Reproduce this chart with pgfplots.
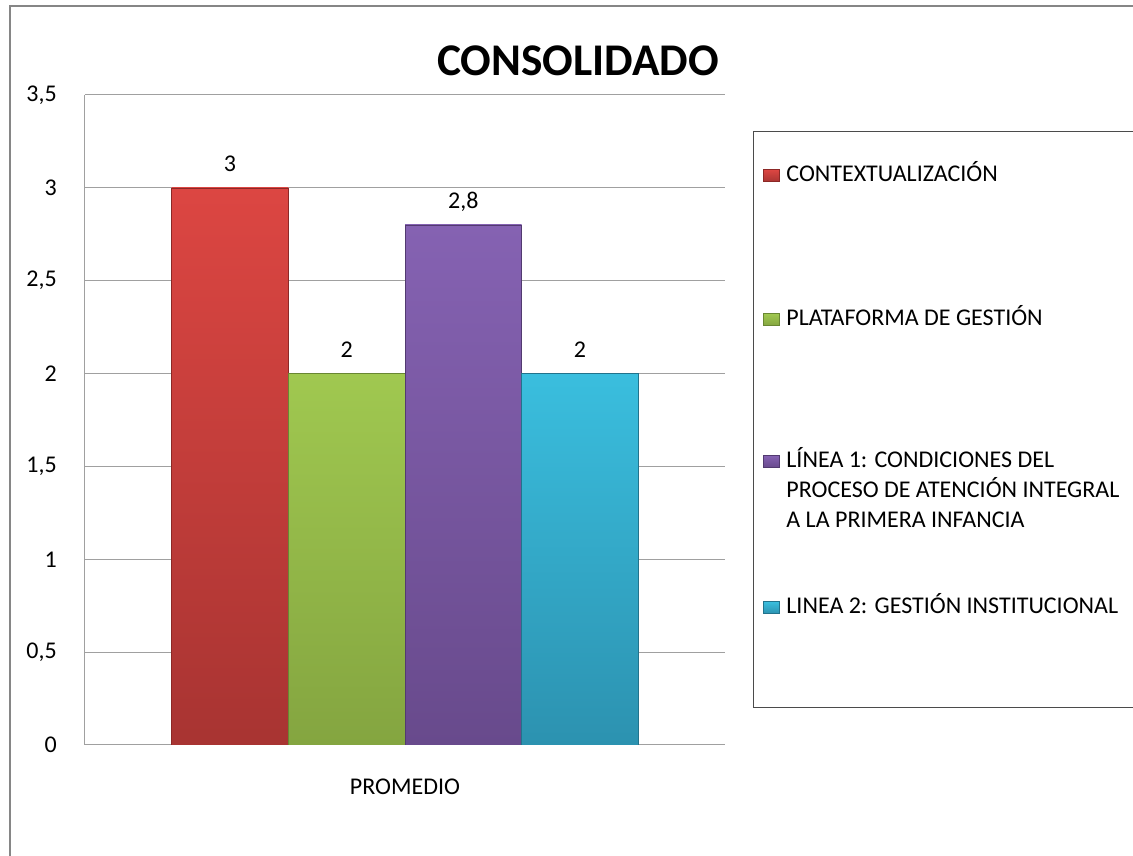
\documentclass[border=0pt]{standalone}
\usepackage{fontspec}
\setmainfont{Carlito}
\usepackage{pgfplots}
\pgfplotsset{compat=1.18}
\newdimen\PX \PX=0.75pt
\definecolor{gridc}{RGB}{160,160,160}
\definecolor{borderc}{RGB}{134,134,134}
\definecolor{legc}{RGB}{75,75,75}
\definecolor{redT}{RGB}{220,70,66}
\definecolor{redB}{RGB}{168,52,50}
\definecolor{redD}{RGB}{140,40,38}
\definecolor{grnT}{RGB}{160,200,80}
\definecolor{grnB}{RGB}{132,165,64}
\definecolor{grnD}{RGB}{105,135,50}
\definecolor{purT}{RGB}{133,98,178}
\definecolor{purB}{RGB}{104,74,140}
\definecolor{purD}{RGB}{82,58,112}
\definecolor{cyaT}{RGB}{58,190,222}
\definecolor{cyaB}{RGB}{44,146,176}
\definecolor{cyaD}{RGB}{34,115,140}
\pgfplotsset{mylegend/.style={legend image code/.code={\path[##1,/tikz/.cd,line width=0.5pt] (0pt,0pt) rectangle (12pt,9pt);}}}
\begin{document}
\begin{tikzpicture}
\useasboundingbox (0,0) rectangle (849.75pt,642pt);
\clip (0,0) rectangle (849.75pt,642pt);
\begin{scope}[x=0.75pt,y=0.75pt]
\fill[white] (0,0) rectangle (1133,856);
\draw[draw=borderc, line width=1.5pt] (9.5,849.5) rectangle (1200,-50);
\node[font=\fontsize{34}{40}\selectfont\bfseries, anchor=center, inner sep=0pt] at (578,795) {CONSOLIDADO};
\end{scope}
\begin{axis}[
  at={(63.75pt,83.25pt)}, anchor=south west,
  scale only axis, width=480pt, height=487.5pt,
  xmin=-1, xmax=1, ymin=0, ymax=3.5,
  ybar=0pt, bar width=87.5pt,
  xtick={0}, xticklabels={PROMEDIO},
  ytick={0,0.5,1,1.5,2,2.5,3,3.5},
  ymajorgrids, grid style={gridc, line width=0.75pt},
  axis x line*=bottom, axis y line*=left,
  axis line style={gridc, line width=0.75pt},
  major tick length=0pt,
  tick label style={font=\fontsize{18}{22}\selectfont, text=black},
  yticklabel style={anchor=east, inner sep=0pt, xshift=-21pt},
  xticklabel style={anchor=center, inner sep=0pt, yshift=-31.5pt},
  /pgf/number format/use comma,
  /pgf/number format/assume math mode=true,
  nodes near coords,
  every node near coord/.append style={font=\fontsize{18}{22}\selectfont, text=black, anchor=base, inner sep=0pt, yshift=12pt},
  legend style={at={(1.04375,0.944615)}, anchor=north west, draw=legc, line width=1.1pt, fill=white,
    inner sep=0pt, inner xsep=6.75pt, row sep=0pt, column sep=5.25pt,
    font=\fontsize{18}{22.5}\selectfont,
    cells={anchor=base west},
    nodes={inner sep=0pt, text depth=, text height=}},
]
\addplot[mylegend, top color=redT, bottom color=redB, draw=redD, line width=0.5pt] coordinates {(0,3)};
\addlegendentry{\rule[-70\PX]{0pt}{120\PX}CONTEXTUALIZACIÓN}
\addplot[mylegend, top color=grnT, bottom color=grnB, draw=grnD, line width=0.5pt] coordinates {(0,2)};
\addlegendentry{\rule[-70\PX]{0pt}{144\PX}PLATAFORMA DE GESTIÓN}
\addplot[mylegend, top color=purT, bottom color=purB, draw=purD, line width=0.5pt] coordinates {(0,2.8)};
\addlegendentry{\parbox[t]{380\PX}{\baselineskip=30\PX\rule{0pt}{72\PX}LÍNEA 1: CONDICIONES DEL\\PROCESO DE ATENCIÓN INTEGRAL\\A LA PRIMERA INFANCIA\rule[-36\PX]{0pt}{36\PX}}}
\addplot[mylegend, top color=cyaT, bottom color=cyaB, draw=cyaD, line width=0.5pt] coordinates {(0,2)};
\addlegendentry{\rule[-94\PX]{0pt}{144\PX}LINEA 2: GESTIÓN INSTITUCIONAL}
\end{axis}
\end{tikzpicture}
\end{document}
